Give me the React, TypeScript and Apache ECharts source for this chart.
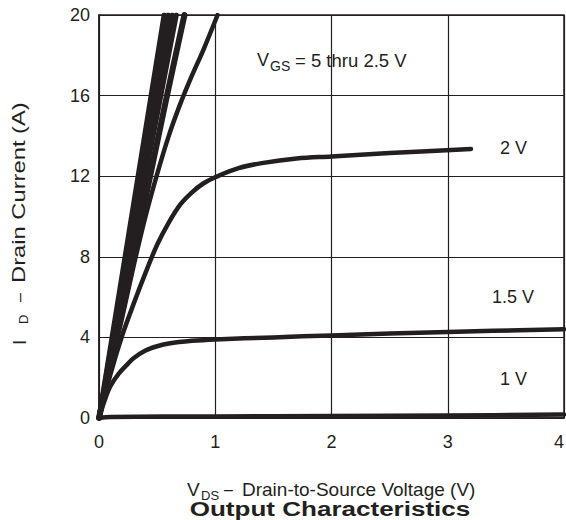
import React, { useEffect, useRef } from "react";
import * as echarts from "echarts";

const xTicks = [0, 1, 2, 3, 4];
const yTicks = [0, 4, 8, 12, 16, 20];

const vgs5: number[][] = [[0, 0], [0.56, 20]];
const vgs4_5: number[][] = [[0, 0], [0.595, 20]];
const vgs4: number[][] = [[0, 0], [0.63, 20]];
const vgs3_5: number[][] = [[0, 0], [0.665, 20]];
const vgs3: number[][] = [[0, 0], [0.2, 5.5], [0.4, 10.9], [0.57, 15.6], [0.735, 20]];
const vgs2_5: number[][] = [[0, 0], [0.1, 2.5], [0.2, 5.0], [0.3, 7.6], [0.4, 10.0], [0.5, 12.1], [0.6, 14.0], [0.7, 15.6], [0.8, 17.0], [0.9, 18.3], [1.02, 20]];
const vgs2: number[][] = [[0, 0], [0.1, 2.2], [0.2, 4.1], [0.3, 5.7], [0.4, 7.2], [0.5, 8.6], [0.6, 9.7], [0.7, 10.6], [0.8, 11.2], [0.9, 11.65], [1.0, 11.95], [1.2, 12.4], [1.4, 12.65], [1.7, 12.88], [2.0, 12.98], [2.5, 13.15], [3.2, 13.35]];
const vgs1_5: number[][] = [[0, 0], [0.05, 0.9], [0.1, 1.6], [0.17, 2.2], [0.25, 2.7], [0.3, 2.98], [0.4, 3.35], [0.5, 3.56], [0.6, 3.7], [0.8, 3.83], [1.0, 3.9], [1.5, 4.0], [2.0, 4.1], [3.0, 4.27], [4.0, 4.4]];
const vgs1: number[][] = [[0, 0], [0.1, 0.05], [1, 0.08], [2, 0.1], [3, 0.12], [4, 0.17]];

const curves = [vgs5, vgs4_5, vgs4, vgs3_5, vgs3, vgs2_5, vgs2, vgs1_5, vgs1];
const curveNames = ["5 V", "4.5 V", "4 V", "3.5 V", "3 V", "2.5 V", "2 V", "1.5 V", "1 V"];
const curveWidths = [5, 5, 5, 5, 6, 4.5, 4.5, 4.5, 4.5];

const INK = "#231f20";
const FONT = "'Liberation Sans', Arial, Helvetica, sans-serif";

function t(text: string, x: number, y: number, size = 18, extra: any = {}, scaleX = 1) {
  return {
    type: "text",
    x,
    y,
    scaleX,
    style: {
      text,
      fill: INK,
      fontSize: size,
      fontFamily: FONT,
      textAlign: "left",
      textVerticalAlign: "middle",
      align: "left",
      verticalAlign: "middle",
      ...extra,
    },
  };
}

export default function App() {
  const ref = useRef<HTMLDivElement>(null);
  useEffect(() => {
    document.body.style.margin = "0";
    const chart = echarts.init(ref.current!, null, { renderer: "svg" });
    chart.setOption({
      animation: false,
      backgroundColor: "#ffffff",
      grid: {
        left: 99,
        top: 15,
        width: 465,
        height: 403,
        outerBoundsMode: "none",
        containLabel: false,
        show: true,
        borderColor: INK,
        borderWidth: 1.5,
        backgroundColor: "transparent",
      },
      xAxis: {
        type: "value",
        min: 0,
        max: 4,
        interval: 1,
        axisLine: { show: true, lineStyle: { color: INK, width: 1.5 } },
        axisTick: { show: false },
        splitLine: { show: true, lineStyle: { color: INK, width: 1.2 } },
        axisLabel: {
          color: INK,
          fontSize: 18,
          fontFamily: FONT,
          margin: 15,
          hideOverlap: false,
          alignMaxLabel: "right",
          formatter: (v: number) => (xTicks.includes(v) ? String(v) : ""),
        },
      },
      yAxis: {
        type: "value",
        min: 0,
        max: 20,
        interval: 4,
        axisLine: { show: true, lineStyle: { color: INK, width: 1.5 } },
        axisTick: { show: false },
        splitLine: { show: true, lineStyle: { color: INK, width: 1.2 } },
        axisLabel: {
          color: INK,
          fontSize: 18,
          fontFamily: FONT,
          margin: 9,
          formatter: (v: number) => (yTicks.includes(v) ? String(v) : ""),
        },
      },
      series: curves.map((d, i) => ({
        type: "line",
        name: curveNames[i],
        data: d,
        showSymbol: false,
        smooth: d.length > 2 ? 0.35 : false,
        clip: true,
        lineStyle: { color: INK, width: curveWidths[i], cap: "round", join: "round" },
        emphasis: { disabled: true },
      })),
      graphic: [
        t("V", 257, 60),
        t("GS", 270, 66, 14),
        t("= 5 thru 2.5 V", 295, 60, 18.5),
        t("2 V", 500, 148),
        t("1.5 V", 492, 297),
        t("1 V", 500, 379),
        t("V", 187, 489, 19),
        t("DS", 201, 495, 13),
        t("–", 224, 489, 16),
        t("Drain-to-Source Voltage (V)", 242, 489, 19),
        {
          type: "text",
          x: 330,
          y: 509,
          scaleX: 1.24,
          style: {
            text: "Output Characteristics",
            fill: INK,
            fontSize: 21,
            fontWeight: "bold",
            fontFamily: FONT,
            textAlign: "center",
            textVerticalAlign: "middle",
            align: "center",
            verticalAlign: "middle",
          },
        },
        {
          type: "group",
          x: 19,
          y: 223,
          rotation: Math.PI / 2,
          children: [
            t("I", -122, 0, 19),
            t("D", -101, 4, 13),
            t("–", -79, 0, 16),
            t("Drain Current (A)", -60, 0, 19, {}, 1.25),
          ],
        },
      ],
    });
    return () => chart.dispose();
  }, []);
  return <div ref={ref} style={{ width: 566, height: 520 }} />;
}
